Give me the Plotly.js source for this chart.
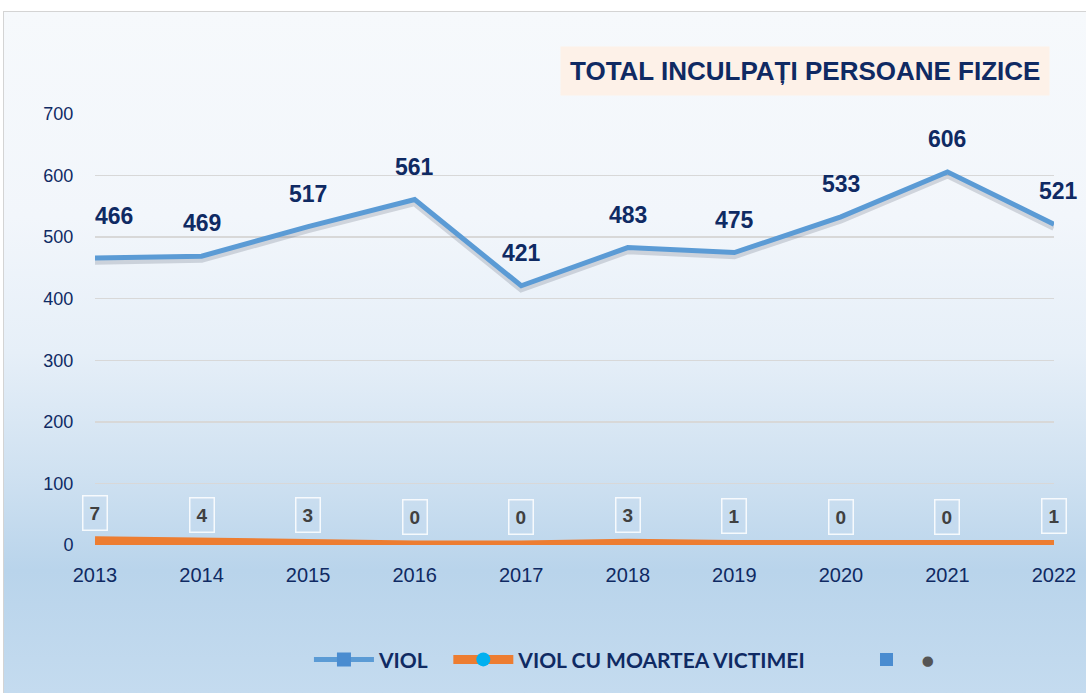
<!DOCTYPE html>
<html>
<head>
<meta charset="utf-8">
<script src="https://cdn.plot.ly/plotly-3.0.1.min.js"></script>
<style>
  html, body { margin: 0; padding: 0; background: #ffffff; width: 1086px; height: 693px; overflow: hidden; }
  #frame {
    position: absolute; left: 3px; top: 11px; width: 1083px; height: 682px;
    border-left: 1px solid #d4d4d4; border-top: 1px solid #d4d4d4; box-sizing: border-box;
    background: linear-gradient(to bottom, #f6f9fc 0%, #f2f6fb 30%, #e6eff8 50%, #cfe1f1 68%, #b9d4eb 82%, #c4dbef 100%);
  }
  #chart { position: absolute; left: 0; top: 0; width: 1086px; height: 693px; }
</style>
</head>
<body>
<div id="frame"></div>
<div id="chart"></div>
<script>
const years = [2013, 2014, 2015, 2016, 2017, 2018, 2019, 2020, 2021, 2022];
const viol = [466, 469, 517, 561, 421, 483, 475, 533, 606, 521];
const violMoarte = [7, 4, 3, 0, 0, 3, 1, 0, 0, 1];
const seriesNames = ['VIOL', 'VIOL CU MOARTEA VICTIMEI'];
const yTicks = [0, 100, 200, 300, 400, 500, 600, 700];
const chartTitle = 'TOTAL INCULPAȚI PERSOANE FIZICE';

const navy = '#0f2a63';
const blue = '#5b9bd5';
const orange = '#ed7d31';
const pad = n => '\u00a0'.repeat(n);

const traces = [
  { x: years, y: viol.map(v => v - 5), mode: 'lines', line: { color: 'rgba(80,90,110,0.22)', width: 7 }, hoverinfo: 'skip', showlegend: false },
  { x: years, y: violMoarte, mode: 'lines', line: { color: orange, width: 9 }, showlegend: false, hoverinfo: 'skip' },
  { x: years, y: viol, mode: 'lines', line: { color: blue, width: 5 }, showlegend: false, hoverinfo: 'skip' },
  { x: [null], y: [null], mode: 'lines+markers', name: seriesNames[0] + pad(3),
    line: { color: blue, width: 5 }, marker: { symbol: 'square', size: 14, color: '#4a8cd0' } },
  { x: [null], y: [null], mode: 'lines+markers', name: seriesNames[1] + pad(8),
    line: { color: orange, width: 9 }, marker: { symbol: 'circle', size: 14, color: '#00b0f0' } },
  { x: [null], y: [null], mode: 'markers', name: '<span style="color:#555">●</span>',
    marker: { symbol: 'square', size: 13, color: '#4a8cd0' } }
];

const annotations = [];
years.forEach((yr, i) => {
  annotations.push({
    x: yr, y: viol[i], xref: 'x', yref: 'y', text: '<b>' + viol[i] + '</b>',
    showarrow: false, yshift: i === 0 ? 42 : 33, xshift: i === 0 ? 19 : (i === years.length - 1 ? 4 : 0),
    font: { family: 'Liberation Sans, Arial, sans-serif', size: 23, color: navy }
  });
  annotations.push({
    x: yr, y: violMoarte[i], xref: 'x', yref: 'y', text: '<b>' + violMoarte[i] + '</b>',
    showarrow: false, yshift: 28, borderpad: 6, bordercolor: 'rgba(255,255,255,0.85)', borderwidth: 1.5,
    bgcolor: 'rgba(200,222,242,0.35)',
    font: { family: 'Liberation Sans, Arial, sans-serif', size: 19, color: '#404040' }
  });
});
annotations.push({
  xref: 'paper', yref: 'paper', x: 1, y: 1, xanchor: 'right', yanchor: 'bottom',
  xshift: -4, yshift: 18,
  text: '<b>' + chartTitle + '</b>', showarrow: false,
  bgcolor: '#fdf1e8', borderpad: 9,
  font: { family: 'Liberation Sans Narrow, Arial Narrow, Liberation Sans, sans-serif', size: 26, color: navy }
});

const layout = {
  width: 1086, height: 693,
  margin: { l: 95, r: 32, t: 114, b: 148, autoexpand: false },
  paper_bgcolor: 'rgba(0,0,0,0)',
  plot_bgcolor: 'rgba(0,0,0,0)',
  showlegend: true,
  legend: {
    orientation: 'h', xref: 'container', yref: 'container', x: 0.575, xanchor: 'center', y: 0.048, yanchor: 'middle',
    font: { family: 'Lato, Liberation Sans, sans-serif', size: 21, color: navy, weight: 'bold' },
    itemwidth: 60, tracegroupgap: 0
  },
  xaxis: {
    range: [2013, 2022], tickvals: years, ticktext: years.map(String),
    showgrid: false, zeroline: false, showline: false,
    ticks: 'outside', ticklen: 12, tickcolor: 'rgba(0,0,0,0)',
    tickfont: { family: 'Liberation Sans, Arial, sans-serif', size: 20, color: navy }
  },
  yaxis: {
    range: [0, 700], tickvals: yTicks, showgrid: true, gridcolor: '#d8d8d8', gridwidth: 1.5,
    zeroline: false, showline: false,
    ticks: 'outside', ticklen: 17, tickcolor: 'rgba(0,0,0,0)',
    tickfont: { family: 'Liberation Sans, Arial, sans-serif', size: 18, color: navy }
  },
  annotations: annotations
};

Plotly.newPlot('chart', traces, layout, { displayModeBar: false, staticPlot: true });
</script>
</body>
</html>
